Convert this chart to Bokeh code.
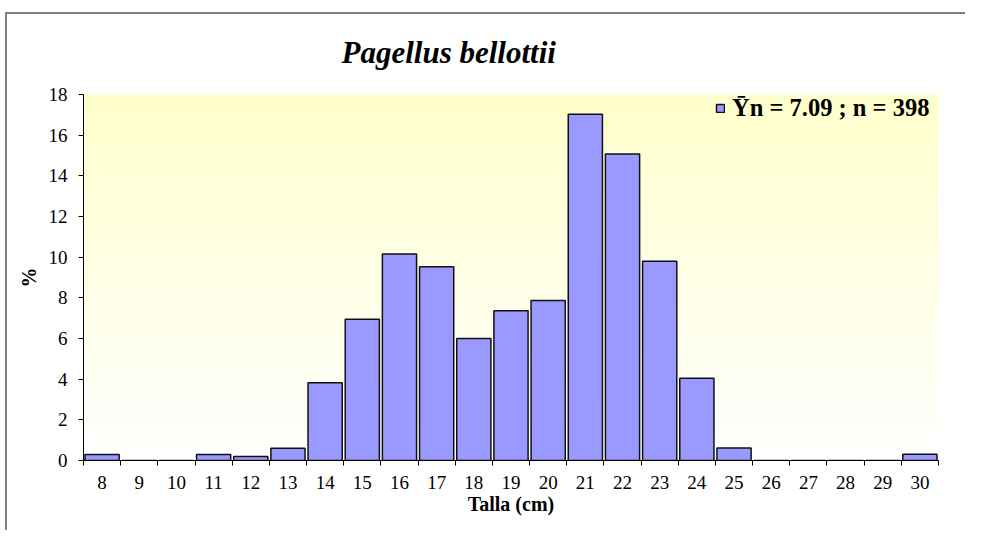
import numpy as np
from bokeh.plotting import figure
from bokeh.models import Range1d, FixedTicker, Legend, LegendItem
from bokeh.embed import file_html
from bokeh.resources import INLINE

# ---- data ----
sizes = [8, 9, 10, 11, 12, 13, 14, 15, 16, 17, 18, 19, 20, 21, 22, 23, 24, 25, 26, 27, 28, 29, 30]
percent = [0.30, 0.0, 0.0, 0.30, 0.20, 0.60, 3.82, 6.95, 10.15, 9.53, 6.00, 7.36, 7.87,
           17.03, 15.07, 9.80, 4.05, 0.62, 0.0, 0.0, 0.0, 0.0, 0.31]
y_ticks = [0, 2, 4, 6, 8, 10, 12, 14, 16, 18]
title_text = "Pagellus bellottii"
legend_text = "\u0232n = 7.09 ; n = 398"
x_label = "Talla (cm)"
y_label = "%"

FONT = "Liberation Serif"

x_lo = sizes[0] - 0.5
x_hi = sizes[-1] + 0.5
boundaries = [s - 0.5 for s in sizes] + [sizes[-1] + 0.5]

p = figure(
    width=965, height=530,
    min_border_left=83, min_border_right=27, min_border_top=94, min_border_bottom=70,
    x_range=Range1d(x_lo, x_hi), y_range=Range1d(y_ticks[0], y_ticks[-1]),
    output_backend="svg", toolbar_location=None,
    background_fill_color="white", border_fill_color="white", border_fill_alpha=0,
    outline_line_color=None,
)
# thin grey chart-area border (top and left), drawn behind the transparent canvas border
p.styles = {"box-shadow": "inset 5px 12px 0 0 #ffffff, inset 7px 14px 0 0 #808080"}

# background gradient (pale yellow at top, white at bottom)
ny = 200
t = np.linspace(0.0, 1.0, ny)
img = np.empty((ny, 1), dtype=np.uint32)
view = img.view(dtype=np.uint8).reshape((ny, 1, 4))
view[:, 0, 0] = 255
view[:, 0, 1] = 255
view[:, 0, 2] = np.round(255 - 51 * t).astype(np.uint8)
view[:, 0, 3] = 255
p.image_rgba(image=[img], x=x_lo, y=y_ticks[0], dw=x_hi - x_lo, dh=y_ticks[-1] - y_ticks[0])

bars = p.vbar(x=sizes, top=percent, bottom=0, width=0.92,
              fill_color="#9999FF", line_color="#111111", line_width=1.5)

# title
p.title.text = title_text
p.title.text_font = FONT
p.title.text_font_style = "bold italic"
p.title.text_font_size = "31px"
p.title.align = "left"
p.title.offset = 258
p.title.standoff = 50
p.title.text_color = "black"

p.grid.visible = False

# x axis
xa = p.xaxis[0]
xa.ticker = FixedTicker(ticks=sizes, minor_ticks=boundaries)
xa.major_tick_line_color = None
xa.minor_tick_line_color = "black"
xa.minor_tick_out = 5
xa.minor_tick_in = 0
xa.axis_line_color = "black"
xa.major_label_text_font = FONT
xa.major_label_text_font_size = "19px"
xa.major_label_text_color = "black"
xa.major_label_standoff = 9
xa.axis_label = x_label
xa.axis_label_text_font = FONT
xa.axis_label_text_font_style = "bold"
xa.axis_label_text_font_size = "20px"
xa.axis_label_text_color = "black"
xa.axis_label_standoff = 1

# y axis
ya = p.yaxis[0]
ya.ticker = FixedTicker(ticks=y_ticks)
ya.major_tick_out = 5
ya.major_tick_in = 0
ya.minor_tick_line_color = None
ya.axis_line_color = "black"
ya.major_tick_line_color = "black"
ya.major_label_text_font = FONT
ya.major_label_text_font_size = "19px"
ya.major_label_text_color = "black"
ya.major_label_standoff = 11
ya.axis_label = y_label
ya.axis_label_text_font = FONT
ya.axis_label_text_font_style = "bold"
ya.axis_label_text_font_size = "20px"
ya.axis_label_text_color = "black"
ya.axis_label_standoff = 6

legend = Legend(
    items=[LegendItem(label=legend_text, renderers=[bars])],
    location=(631, 337),
    label_text_font=FONT, label_text_font_style="bold", label_text_font_size="24.5px",
    label_text_color="black",
    glyph_width=10, glyph_height=10, label_standoff=7,
    background_fill_alpha=0, border_line_alpha=0,
    margin=0, padding=1, spacing=0,
)
p.add_layout(legend)

open("out.html", "w").write(file_html(p, INLINE))
